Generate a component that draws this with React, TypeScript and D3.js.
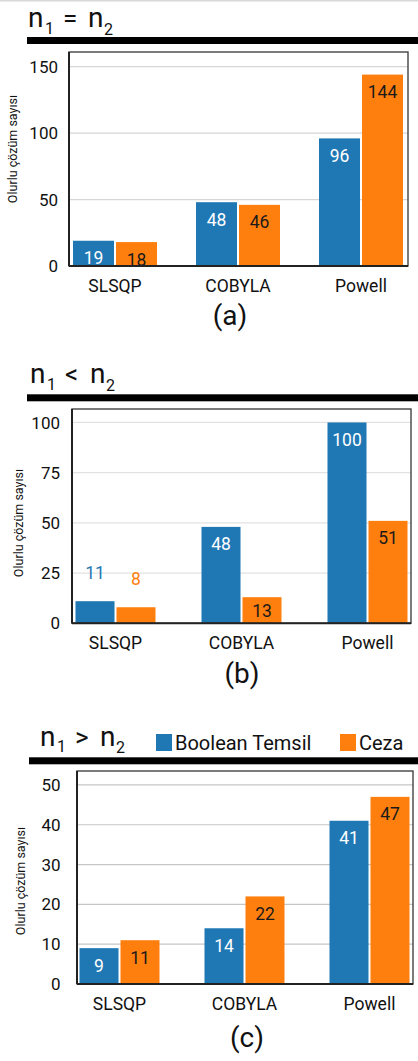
import React from 'react';
import * as d3 from 'd3';

// categories and series
const methods = ['SLSQP', 'COBYLA', 'Powell'];
const seriesNames = ['Boolean Temsil', 'Ceza'];
const seriesColors = ['#1f77b4', '#ff7f0e'];

// (a) n1 = n2
const booleanEq = [19, 48, 96];
const cezaEq = [18, 46, 144];
const ticksEq = [0, 50, 100, 150];

// (b) n1 < n2
const booleanLt = [11, 48, 100];
const cezaLt = [8, 13, 51];
const ticksLt = [0, 25, 50, 75, 100];

// (c) n1 > n2
const booleanGt = [9, 14, 41];
const cezaGt = [11, 22, 47];
const ticksGt = [0, 10, 20, 30, 40, 50];

const W = 418;
const H = 1061;
const FONT = 'Roboto, "Noto Sans", sans-serif';

type Panel = {
  op: string;
  caption: string;
  values: number[][];
  ticks: number[];
  yMax: number;
  box: { x0: number; x1: number; y0: number; y1: number };
  c0: number;
  step: number;
  groupW: number;
  tickX: number;
  titleX: number;
  titleY: number;
  ruleX: number;
  ruleY: number;
  yLabel: { x: number; y: number };
  capX: number;
  capY: number;
  grid: string;
  clamp: boolean;
  legend: boolean;
};

const panels: Panel[] = [
  {
    op: '=', caption: '(a)', values: [booleanEq, cezaEq], ticks: ticksEq, yMax: 161,
    box: { x0: 69, x1: 408, y0: 52, y1: 266 }, c0: 115, step: 123, groupW: 84, tickX: 58,
    titleX: 28, titleY: 27, ruleX: 27, ruleY: 37, yLabel: { x: 17, y: 149 },
    capX: 230, capY: 325, grid: '#d6d6d6', clamp: false, legend: false,
  },
  {
    op: '<', caption: '(b)', values: [booleanLt, cezaLt], ticks: ticksLt, yMax: 106.7,
    box: { x0: 72, x1: 411, y0: 409, y1: 623.3 }, c0: 115.5, step: 126, groupW: 80, tickX: 60,
    titleX: 30, titleY: 383.3, ruleX: 27, ruleY: 394.3, yLabel: { x: 23, y: 523 },
    capX: 242, capY: 683, grid: '#e2e2e2', clamp: true, legend: false,
  },
  {
    op: '>', caption: '(c)', values: [booleanGt, cezaGt], ticks: ticksGt, yMax: 53.5,
    box: { x0: 77, x1: 413, y0: 771, y1: 984 }, c0: 119.5, step: 125, groupW: 80, tickX: 60.5,
    titleX: 40, titleY: 745.7, ruleX: 29, ruleY: 757.3, yLabel: { x: 25, y: 881 },
    capX: 247, capY: 1046.5, grid: '#c6c6c6', clamp: false, legend: true,
  },
];

const ChartPanel = ({ p }: { p: Panel }) => {
  const { box } = p;
  const pad = 1 - p.groupW / p.step;
  const x0 = d3.scaleBand<string>()
    .domain(methods)
    .range([p.c0 - p.step / 2, p.c0 + p.step * (methods.length - 0.5)])
    .paddingInner(pad)
    .paddingOuter(pad / 2);
  const x1 = d3.scaleBand<string>().domain(seriesNames).range([0, x0.bandwidth()]);
  const y = d3.scaleLinear().domain([0, p.yMax]).range([box.y1, box.y0]);

  const t = p.titleX;
  return (
    <g>
      {/* title */}
      <g fontFamily={FONT} fill="#111">
        <text x={t} y={p.titleY} fontSize={28}>n</text>
        <text x={t + 17} y={p.titleY + 6.5} fontSize={16}>1</text>
        <text x={t + 35} y={p.titleY} fontSize={26}>{p.op}</text>
        <text x={t + 60} y={p.titleY} fontSize={28}>n</text>
        <text x={t + 76} y={p.titleY + 7.5} fontSize={16}>2</text>
      </g>
      <rect x={p.ruleX} y={p.ruleY} width={W - p.ruleX} height={7} fill="#000" />

      {p.legend && (
        <g fontFamily={FONT} fontSize={20} fill="#111">
          {seriesNames.map((s, i) => {
            const lx = i === 0 ? 156 : 340;
            return (
              <g key={s}>
                <rect x={lx} y={734} width={16} height={17} fill={seriesColors[i]} />
                <text x={lx + 19} y={749.5}>{s}</text>
              </g>
            );
          })}
        </g>
      )}

      {/* grid */}
      {p.ticks.filter(v => v > 0).map(v => (
        <line key={v} x1={box.x0} x2={box.x1} y1={y(v)} y2={y(v)} stroke={p.grid} strokeWidth={1.2} />
      ))}

      {/* bars */}
      {methods.map((m, mi) => (
        <g key={m} transform={`translate(${x0(m)},0)`}>
          {seriesNames.map((s, si) => {
            const v = p.values[si][mi];
            const top = y(v);
            const h = box.y1 - top;
            const bx = (x1(s) as number) + (si === 0 ? 0 : 1);
            const bw = x1.bandwidth() - 1;
            const outside = h < 23;
            let ly = top + 23.5;
            if (p.clamp) ly = Math.min(ly, box.y1 - 6.5);
            if (outside) ly = top - 22;
            return (
              <g key={s}>
                <rect x={bx} y={top} width={bw} height={h} fill={seriesColors[si]} />
                <text
                  x={bx + bw / 2}
                  y={ly}
                  textAnchor="middle"
                  fontFamily={FONT}
                  fontSize={17.5}
                  fill={outside ? seriesColors[si] : si === 0 ? '#fff' : '#1a1a1a'}
                >{v}</text>
              </g>
            );
          })}
        </g>
      ))}

      {/* frame */}
      <rect x={box.x0} y={box.y0} width={box.x1 - box.x0} height={box.y1 - box.y0} fill="none" stroke="#444" strokeWidth={1.4} />
      <line x1={box.x0} x2={box.x0} y1={box.y0} y2={box.y1} stroke="#222" strokeWidth={2} />
      <line x1={box.x0} x2={box.x1} y1={box.y1} y2={box.y1} stroke="#222" strokeWidth={2} />

      {/* y ticks */}
      {p.ticks.map(v => (
        <text key={v} x={p.tickX} y={y(v)} dy="0.36em" textAnchor="end" fontFamily={FONT} fontSize={17} fill="#111">{v}</text>
      ))}

      {/* categories */}
      {methods.map(m => (
        <text key={m} x={(x0(m) as number) + x0.bandwidth() / 2} y={box.y1 + 25.5} textAnchor="middle" fontFamily={FONT} fontSize={17.5} fill="#111">{m}</text>
      ))}

      <text
        transform={`translate(${p.yLabel.x},${p.yLabel.y}) rotate(-90)`}
        textAnchor="middle"
        fontFamily={FONT}
        fontSize={12.5}
        fill="#111"
      >Olurlu çözüm sayısı</text>

      <text x={p.capX} y={p.capY} textAnchor="middle" fontFamily={FONT} fontSize={28} fill="#111">{p.caption}</text>
    </g>
  );
};

const App = () => (
  <svg width={W} height={H} style={{ position: 'absolute', left: 0, top: 0, background: '#fff' }}>
    <rect x={0} y={0} width={W} height={H} fill="#fff" />
    <rect x={0} y={0} width={W} height={1.5} fill="#d8d8d8" />
    {panels.map(p => <ChartPanel key={p.caption} p={p} />)}
  </svg>
);

export default App;
